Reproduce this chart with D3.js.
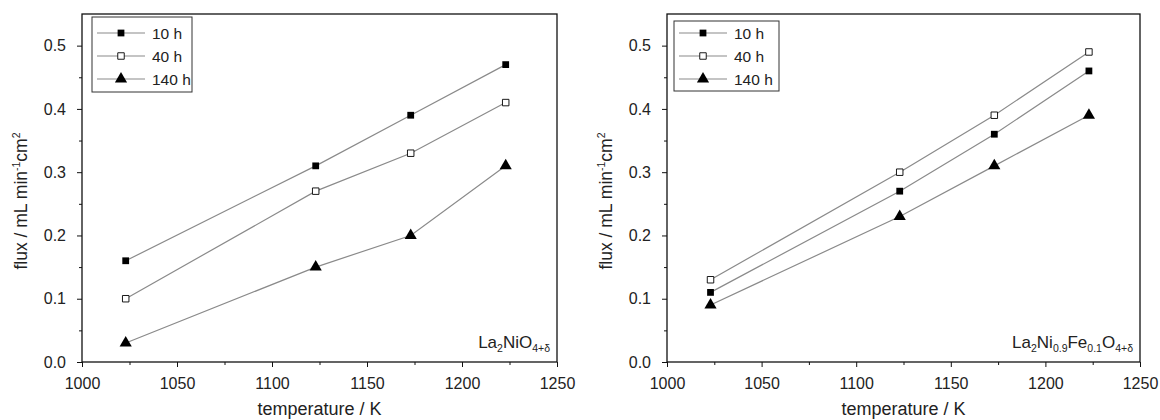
<!DOCTYPE html>
<html>
<head>
<meta charset="utf-8">
<script src="https://cdn.jsdelivr.net/npm/d3@7"></script>
<style>
  body { margin: 0; background: #fff; }
  svg { font-family: "Liberation Sans", Arial, sans-serif; }
  .axis text { font-size: 16px; fill: #222; }
  .axis path, .axis line { stroke: #111; }
</style>
</head>
<body>
<div id="chart"></div>
<script>
// temperatures (K)
var temps = [1023, 1123, 1173, 1223];
var seriesNames = ["10 h", "40 h", "140 h"];
var seriesMarkers = ["square", "openSquare", "triangle"];

// La2NiO4+d
var nio10 = [0.16, 0.31, 0.39, 0.47];
var nio40 = [0.10, 0.27, 0.33, 0.41];
var nio140 = [0.03, 0.15, 0.20, 0.31];

// La2Ni0.9Fe0.1O4+d
var fe10 = [0.11, 0.27, 0.36, 0.46];
var fe40 = [0.13, 0.30, 0.39, 0.49];
var fe140 = [0.09, 0.23, 0.31, 0.39];

var xTicks = [1000, 1050, 1100, 1150, 1200, 1250];
var yTicks = [0.0, 0.1, 0.2, 0.3, 0.4, 0.5];

var svg = d3.select("#chart").append("svg")
  .attr("width", 1160)
  .attr("height", 420);

function drawPanel(opts) {
  var left = opts.left, right = opts.right, top = 14, bottom = 362;

  var x = d3.scaleLinear().domain([1000, 1250]).range([left, right]);
  var y = d3.scaleLinear().domain([0, 0.55]).range([bottom, top]);

  var g = svg.append("g");

  // frame
  g.append("rect")
    .attr("x", left).attr("y", top)
    .attr("width", right - left).attr("height", bottom - top)
    .attr("fill", "none").attr("stroke", "#111").attr("stroke-width", 1.3);

  // minor ticks
  g.append("g").attr("class", "axis")
    .attr("transform", `translate(0,${bottom})`)
    .call(d3.axisBottom(x).tickValues(d3.range(1025, 1250, 50)).tickSize(3).tickFormat(""))
    .select(".domain").remove();
  g.append("g").attr("class", "axis")
    .attr("transform", `translate(${left},0)`)
    .call(d3.axisLeft(y).tickValues([0.05, 0.15, 0.25, 0.35, 0.45]).tickSize(3).tickFormat(""))
    .select(".domain").remove();

  // major ticks
  var xa = g.append("g").attr("class", "axis")
    .attr("transform", `translate(0,${bottom})`)
    .call(d3.axisBottom(x).tickValues(xTicks).tickSize(5).tickPadding(11).tickFormat(d3.format("d")));
  xa.select(".domain").remove();

  var ya = g.append("g").attr("class", "axis")
    .attr("transform", `translate(${left},0)`)
    .call(d3.axisLeft(y).tickValues(yTicks).tickSize(5).tickPadding(11).tickFormat(d3.format(".1f")));
  ya.select(".domain").remove();

  // axis titles
  g.append("text")
    .attr("x", (left + right) / 2).attr("y", 415)
    .attr("text-anchor", "middle").attr("font-size", 18).attr("fill", "#222")
    .text("temperature / K");

  var yl = g.append("text")
    .attr("transform", `translate(${left - 55},${201}) rotate(-90)`)
    .attr("text-anchor", "middle").attr("font-size", 17.5).attr("fill", "#222");
  yl.append("tspan").text("flux / mL min");
  yl.append("tspan").attr("font-size", 10.5).attr("dy", -7).text("-1");
  yl.append("tspan").attr("dy", 7).text("cm");
  yl.append("tspan").attr("font-size", 10.5).attr("dy", -7).text("2");

  // series
  var line = d3.line()
    .x((d, i) => x(temps[i]))
    .y(d => y(d));

  opts.series.forEach(function (vals, si) {
    g.append("path")
      .datum(vals)
      .attr("d", line)
      .attr("fill", "none")
      .attr("stroke", "#8a8a8a")
      .attr("stroke-width", 1.2);
  });

  opts.series.forEach(function (vals, si) {
    g.selectAll(null)
      .data(vals)
      .enter()
      .append("path")
      .attr("transform", (d, i) => `translate(${x(temps[i])},${y(d)})`)
      .each(function () { drawMarker(d3.select(this), seriesMarkers[si]); });
  });

  // legend
  var lg = g.append("g");
  lg.append("rect")
    .attr("x", opts.legX).attr("y", opts.legY)
    .attr("width", opts.legW).attr("height", opts.legH)
    .attr("fill", "#fff").attr("stroke", "#333").attr("stroke-width", 1);
  seriesNames.forEach(function (name, si) {
    var ry = 33 + si * 23;
    var lx0 = opts.legX + 5, lx1 = lx0 + 48;
    lg.append("line")
      .attr("x1", lx0).attr("x2", lx1).attr("y1", ry).attr("y2", ry)
      .attr("stroke", "#8a8a8a").attr("stroke-width", 1.1);
    var m = lg.append("path").attr("transform", `translate(${(lx0 + lx1) / 2},${ry})`);
    drawMarker(m, seriesMarkers[si]);
    lg.append("text")
      .attr("x", lx1 + 7).attr("y", ry + 5.5)
      .attr("font-size", 15.5).attr("fill", "#222")
      .text(name);
  });

  // sample label
  var lab = g.append("text")
    .attr("x", right - 7).attr("y", bottom - 14)
    .attr("text-anchor", "end").attr("font-size", 17).attr("fill", "#222");
  opts.label.forEach(function (p) {
    var t = lab.append("tspan").text(p[0]);
    if (p[1] === "sub") t.attr("font-size", 10.5).attr("dy", 4);
    else t.attr("dy", p[1] === "back" ? -4 : 0);
  });
}

function drawMarker(sel, kind) {
  if (kind === "triangle") {
    sel.attr("d", d3.symbol(d3.symbolTriangle, 64)()).attr("fill", "#000");
  } else if (kind === "square") {
    sel.attr("d", d3.symbol(d3.symbolSquare, 46)()).attr("fill", "#000");
  } else {
    sel.attr("d", d3.symbol(d3.symbolSquare, 42)())
      .attr("fill", "#fff").attr("stroke", "#000").attr("stroke-width", 0.9);
  }
}

drawPanel({
  left: 82, right: 557,
  series: [nio10, nio40, nio140],
  legX: 92, legY: 17, legW: 100, legH: 75,
  label: [["La"], ["2", "sub"], ["NiO", "back"], ["4+δ", "sub"]]
});

drawPanel({
  left: 667, right: 1140,
  series: [fe10, fe40, fe140],
  legX: 674, legY: 21, legW: 105, legH: 70,
  label: [["La"], ["2", "sub"], ["Ni", "back"], ["0.9", "sub"], ["Fe", "back"], ["0.1", "sub"], ["O", "back"], ["4+δ", "sub"]]
});
</script>
</body>
</html>
